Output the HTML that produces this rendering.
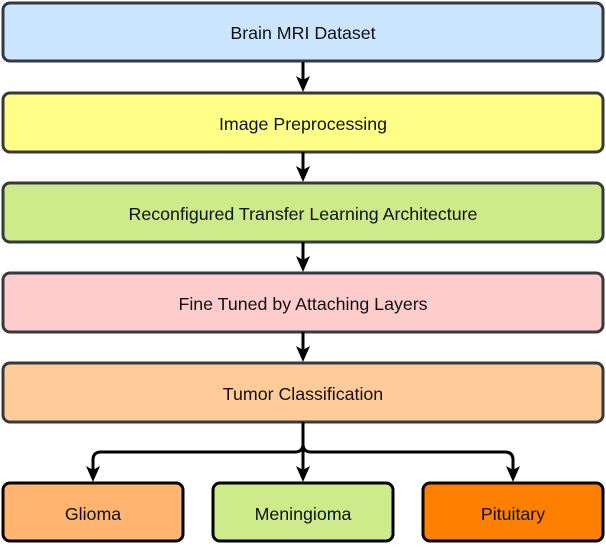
<!DOCTYPE html>
<html><head><style>
body{margin:0;width:606px;height:544px;background:#fff;overflow:hidden}
</style></head><body>
<svg width="606" height="544" xmlns="http://www.w3.org/2000/svg" font-family="Liberation Sans, sans-serif" font-size="17.8" text-anchor="middle">
<g stroke="#36393d" stroke-width="3">
<rect x="3" y="3" width="600" height="58" rx="7" fill="#cce5ff"/>
<rect x="3" y="93" width="600" height="59" rx="7" fill="#ffff88"/>
<rect x="3" y="183" width="600" height="59" rx="7" fill="#cdeb8b"/>
<rect x="3" y="273" width="600" height="59" rx="7" fill="#ffcccc"/>
<rect x="3" y="363" width="600" height="59" rx="7" fill="#ffcc99"/>
</g>
<g stroke="#000" stroke-width="3">
<rect x="3" y="483" width="180" height="58" rx="7" fill="#ffb570"/>
<rect x="213" y="483" width="180" height="58" rx="7" fill="#cdeb8b"/>
<rect x="423" y="483" width="180" height="58" rx="7" fill="#ff8000"/>
</g>
<g stroke="#000" stroke-width="3" fill="none">
<line x1="303" y1="62" x2="303" y2="84"/>
<line x1="303" y1="152" x2="303" y2="174"/>
<line x1="303" y1="242" x2="303" y2="264"/>
<line x1="303" y1="332" x2="303" y2="354"/>
<line x1="303" y1="422" x2="303" y2="474"/>
<path d="M303,422 V444 Q303,452 295,452 H101 Q93,452 93,460 V474"/>
<path d="M303,422 V444 Q303,452 311,452 H505 Q513,452 513,460 V474"/>
</g>
<g fill="#000">
<path d="M296,76 L303,92 L310,76 L303,80 Z"/>
<path d="M296,166 L303,182 L310,166 L303,170 Z"/>
<path d="M296,256 L303,272 L310,256 L303,260 Z"/>
<path d="M296,346 L303,362 L310,346 L303,350 Z"/>
<path d="M296,466 L303,482 L310,466 L303,470 Z"/>
<path d="M86,466 L93,482 L100,466 L93,470 Z"/>
<path d="M506,466 L513,482 L520,466 L513,470 Z"/>
</g>
<g fill="#111">
<text x="303" y="39">Brain MRI Dataset</text>
<text x="303" y="130">Image Preprocessing</text>
<text x="303" y="220">Reconfigured Transfer Learning Architecture</text>
<text x="303" y="310">Fine Tuned by Attaching Layers</text>
<text x="303" y="400">Tumor Classification</text>
<text x="93" y="520">Glioma</text>
<text x="303" y="520">Meningioma</text>
<text x="513" y="520">Pituitary</text>
</g>
</svg>
</body></html>
